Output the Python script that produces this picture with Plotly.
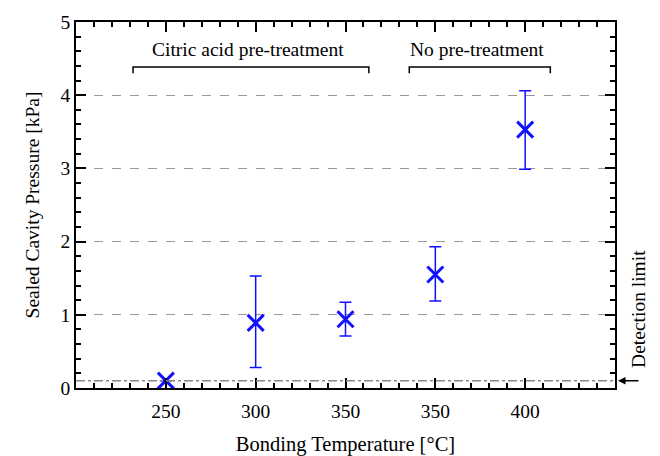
import plotly.graph_objects as go

positions = [1, 2, 3, 4, 5]
tick_labels = ["250", "300", "350", "350", "400"]
y_ticks = [0, 1, 2, 3, 4, 5]
pressure = [0.10, 0.89, 0.94, 1.55, 3.53]
err_plus = [0.0, 0.64, 0.23, 0.38, 0.53]
err_minus = [0.0, 0.61, 0.23, 0.36, 0.54]
detection_limit = 0.1

font_family = "Liberation Serif"
fs = 19.5
blue = "#1010ff"

fig = go.Figure()
fig.add_trace(go.Scatter(
    x=positions, y=pressure, mode="markers",
    marker=dict(symbol="x-thin", size=16, color=blue, line=dict(color=blue, width=3)),
    error_y=dict(type="data", symmetric=False, array=err_plus, arrayminus=err_minus,
                 color=blue, thickness=1.5, width=6),
    showlegend=False,
))

# detection limit line
fig.add_shape(type="line", xref="x", yref="y", x0=0, x1=6, y0=detection_limit, y1=detection_limit,
              line=dict(color="#888888", width=1.5, dash="dashdot"))

# brackets
for x0, x1 in [(0.635, 3.26), (3.71, 5.28)]:
    fig.add_shape(type="path", xref="x", yref="y",
                  path=f"M {x0},4.30 L {x0},4.385 L {x1},4.385 L {x1},4.30",
                  line=dict(color="black", width=1.5))

fig.add_annotation(x=1.92, y=4.63, xref="x", yref="y", text="Citric acid pre-treatment",
                   showarrow=False, font=dict(family=font_family, size=fs, color="black"))
fig.add_annotation(x=4.46, y=4.63, xref="x", yref="y", text="No pre-treatment",
                   showarrow=False, font=dict(family=font_family, size=fs, color="black"))

# detection limit arrow + label
fig.add_annotation(x=1.0056, y=detection_limit, xref="paper", yref="y", ax=22, ay=0,
                   text="", showarrow=True, arrowhead=2, arrowsize=1, arrowwidth=1.5,
                   arrowcolor="black")
fig.add_annotation(x=1.0445, y=1.08, xref="paper", yref="y", text="Detection limit",
                   textangle=-90, showarrow=False, xanchor="center", yanchor="middle",
                   font=dict(family=font_family, size=fs, color="black"))

minor_ticks = dict(tickmode="linear", tick0=0, dtick=0.2, ticklen=5, tickwidth=2,
                   tickcolor="black", ticks="inside", showgrid=False)

fig.update_xaxes(
    range=[0, 6], tickmode="array", tickvals=positions, ticktext=tick_labels,
    showgrid=False, zeroline=False,
    showline=True, linecolor="black", linewidth=1.5, mirror="ticks",
    ticks="inside", ticklen=10, tickwidth=2, tickcolor="black",
    ticklabelstandoff=5,
    minor=minor_ticks,
    tickfont=dict(family=font_family, size=fs, color="black"),
    title=dict(text="Bonding Temperature [°C]", standoff=20,
               font=dict(family=font_family, size=20.5, color="black")),
)
fig.update_yaxes(
    range=[0, 5], tickmode="array", tickvals=y_ticks,
    ticksuffix="\u00a0\u00a0",
    showgrid=True, gridcolor="#999999", griddash="dash", gridwidth=1, zeroline=False,
    showline=True, linecolor="black", linewidth=1.5, mirror="ticks",
    ticks="inside", ticklen=10, tickwidth=2, tickcolor="black",
    minor=minor_ticks,
    tickfont=dict(family=font_family, size=fs, color="black"),
    title=dict(text="Sealed Cavity Pressure [kPa]", standoff=16,
               font=dict(family=font_family, size=fs, color="black")),
)

# page body has an 8px default margin, so shift the figure accordingly
fig.update_layout(
    width=652, height=448,
    margin=dict(l=68, r=45, t=14, b=68, autoexpand=False),
    plot_bgcolor="white", paper_bgcolor="white",
    font=dict(family=font_family, size=fs, color="black"),
)

fig.write_html("out.html")
